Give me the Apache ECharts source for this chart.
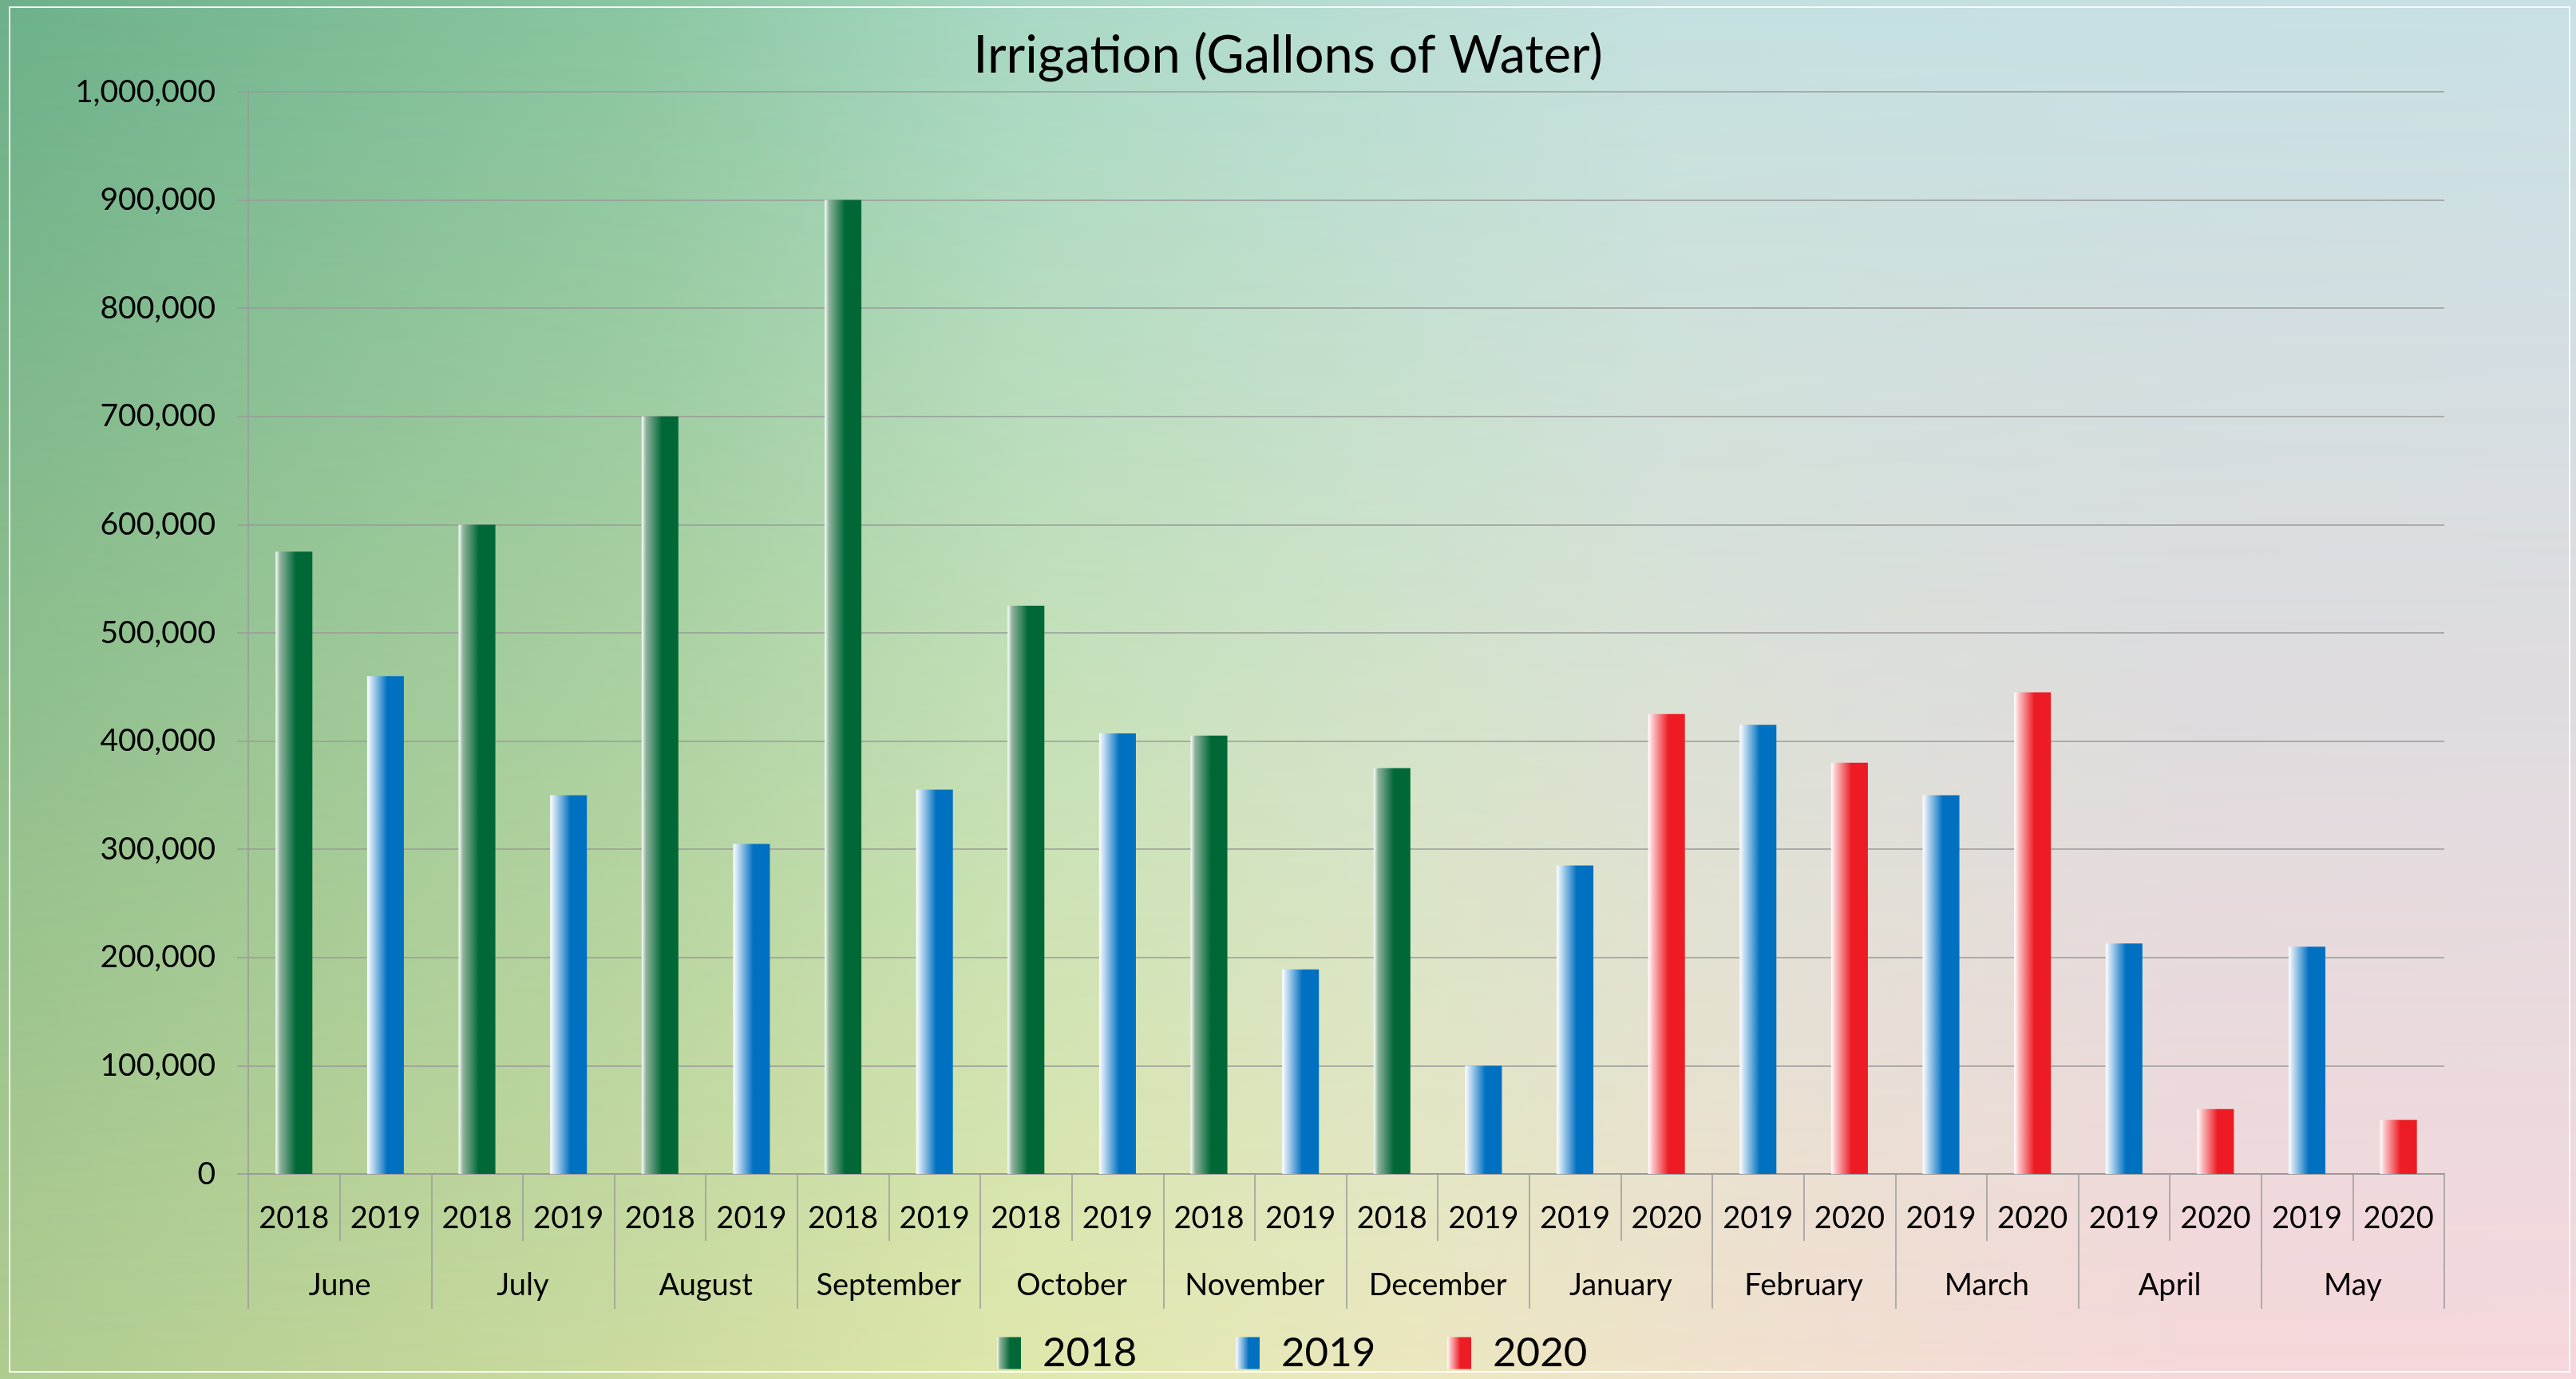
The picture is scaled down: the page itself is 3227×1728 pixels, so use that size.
<!DOCTYPE html>
<html lang="en">
<head>
    <meta charset="UTF-8">
    <title>Irrigation</title>
    <script src="https://cdn.jsdelivr.net/npm/echarts@6/dist/echarts.min.js"></script>
    <style>
        *{
            padding:0;
            margin:0;
        }
        html,body{
            width:100%;
            height:100%;
            overflow:hidden;
        }
        #bg{
            position:absolute;
            left:0;top:0;width:100%;height:100%;
            background: linear-gradient(to right, #b0cc90 0%, #cddca0 25%, #e0e8ac 40%, #ece8c0 55%, #f2e0d0 70%, #f6d8da 85%, #f6d8dc 100%);
        }
        #bg:after{
            content:'';
            position:absolute;
            left:0;top:0;width:100%;height:100%;
            background: linear-gradient(to right, #6cb08a 0%, #8ac6a2 25%, #a8d8c4 40%, #b4dcd0 50%, #c4e0e0 65%, #c8e0e4 100%);
            -webkit-mask-image: linear-gradient(to bottom, #000 0%, transparent 100%);
            mask-image: linear-gradient(to bottom, #000 0%, transparent 100%);
        }
        #main{
            position:absolute;
            left:0;top:0;
            width:100%;
            height:100%;
        }
    </style>
</head>
<body>
<div id="bg"></div>
<div id="main"></div>
<script>
    var months = ['June','July','August','September','October','November','December','January','February','March','April','May'];
    var years = ['2018','2019','2018','2019','2018','2019','2018','2019','2018','2019','2018','2019','2018','2019',
                 '2019','2020','2019','2020','2019','2020','2019','2020','2019','2020'];
    var v2018 = [575000,'-',600000,'-',700000,'-',900000,'-',525000,'-',405000,'-',375000,'-',
                 '-','-','-','-','-','-','-','-','-','-'];
    var v2019 = ['-',460000,'-',350000,'-',305000,'-',355000,'-',407000,'-',189000,'-',100000,
                 285000,'-',415000,'-',350000,'-',213000,'-',210000,'-'];
    var v2020 = ['-','-','-','-','-','-','-','-','-','-','-','-','-','-',
                 '-',425000,'-',380000,'-',445000,'-',60000,'-',50000];

    var font = 'Lato';

    function grad(dark, light){
        return new echarts.graphic.LinearGradient(0, 0, 1, 0, [
            {offset: 0, color: '#ffffff'},
            {offset: 0.12, color: light},
            {offset: 0.55, color: dark},
            {offset: 1, color: dark}
        ]);
    }

    // one legend per year, the gaps in the original are uneven
    function legendAt(name, left){
        return {
            left: left,
            top: 1670,
            padding: 0,
            itemWidth: 30,
            itemHeight: 40,
            icon: 'rect',
            textStyle: {
                fontFamily: font,
                fontSize: 51,
                color: '#000',
                padding: [0, 0, 0, 22]
            },
            data: [name]
        };
    }

    var myChart = echarts.init(document.getElementById('main'));
    var option = {
        backgroundColor: 'transparent',
        animation: false,
        title: {
            text: 'Irrigation (Gallons of Water)',
            left: 'center',
            top: 38,
            padding: 0,
            textStyle: {
                fontFamily: font,
                fontSize: 65,
                fontWeight: 'normal',
                color: '#000'
            }
        },
        legend: [
            legendAt('2018', 1249),
            legendAt('2019', 1548),
            legendAt('2020', 1813)
        ],
        graphic: [{
            type: 'rect',
            silent: true,
            shape: {x: 12, y: 9, width: 3207, height: 1710},
            style: {fill: 'none', stroke: 'rgba(255,255,255,0.9)', lineWidth: 2}
        }],
        grid: {
            left: 311,
            right: 165,
            top: 115,
            bottom: 257
        },
        xAxis: [{
            type: 'category',
            data: years,
            position: 'bottom',
            axisLine: {lineStyle: {color: '#9a9a9a', width: 2}},
            axisTick: {show: true, length: 84, interval: 0, lineStyle: {color: '#9a9a9a', width: 1.5}},
            axisLabel: {interval: 0, margin: 37, fontFamily: font, fontSize: 38, color: '#000'},
            splitLine: {show: false}
        }, {
            type: 'category',
            data: months,
            position: 'bottom',
            axisLine: {show: false},
            axisTick: {show: true, length: 169, interval: 0, lineStyle: {color: '#9a9a9a', width: 1.5}},
            axisLabel: {interval: 0, margin: 121, fontFamily: font, fontSize: 38, color: '#000'},
            splitLine: {show: false}
        }],
        yAxis: {
            type: 'value',
            min: 0,
            max: 1000000,
            interval: 100000,
            axisLine: {show: true, lineStyle: {color: '#9a9a9a', width: 1.5}},
            axisTick: {show: true, length: 14, lineStyle: {color: '#9a9a9a', width: 1.5}},
            axisLabel: {
                margin: 41,
                fontFamily: font,
                fontSize: 39,
                color: '#000',
                formatter: function (v) { return v.toLocaleString('en-US'); }
            },
            splitLine: {lineStyle: {color: '#9a9a9a', width: 1.5}}
        },
        series: [
            {
                name: '2018',
                type: 'bar',
                xAxisIndex: 0,
                barWidth: 46,
                barGap: '-100%',
                itemStyle: {color: grad('#006837', '#8fb39c')},
                data: v2018
            },
            {
                name: '2019',
                type: 'bar',
                xAxisIndex: 0,
                barWidth: 46,
                barGap: '-100%',
                itemStyle: {color: grad('#0070c0', '#c6def2')},
                data: v2019
            },
            {
                name: '2020',
                type: 'bar',
                xAxisIndex: 0,
                barWidth: 46,
                barGap: '-100%',
                itemStyle: {color: grad('#ed1c24', '#fbc4c6')},
                data: v2020
            }
        ]
    };
    myChart.setOption(option);
</script>
</body>
</html>
